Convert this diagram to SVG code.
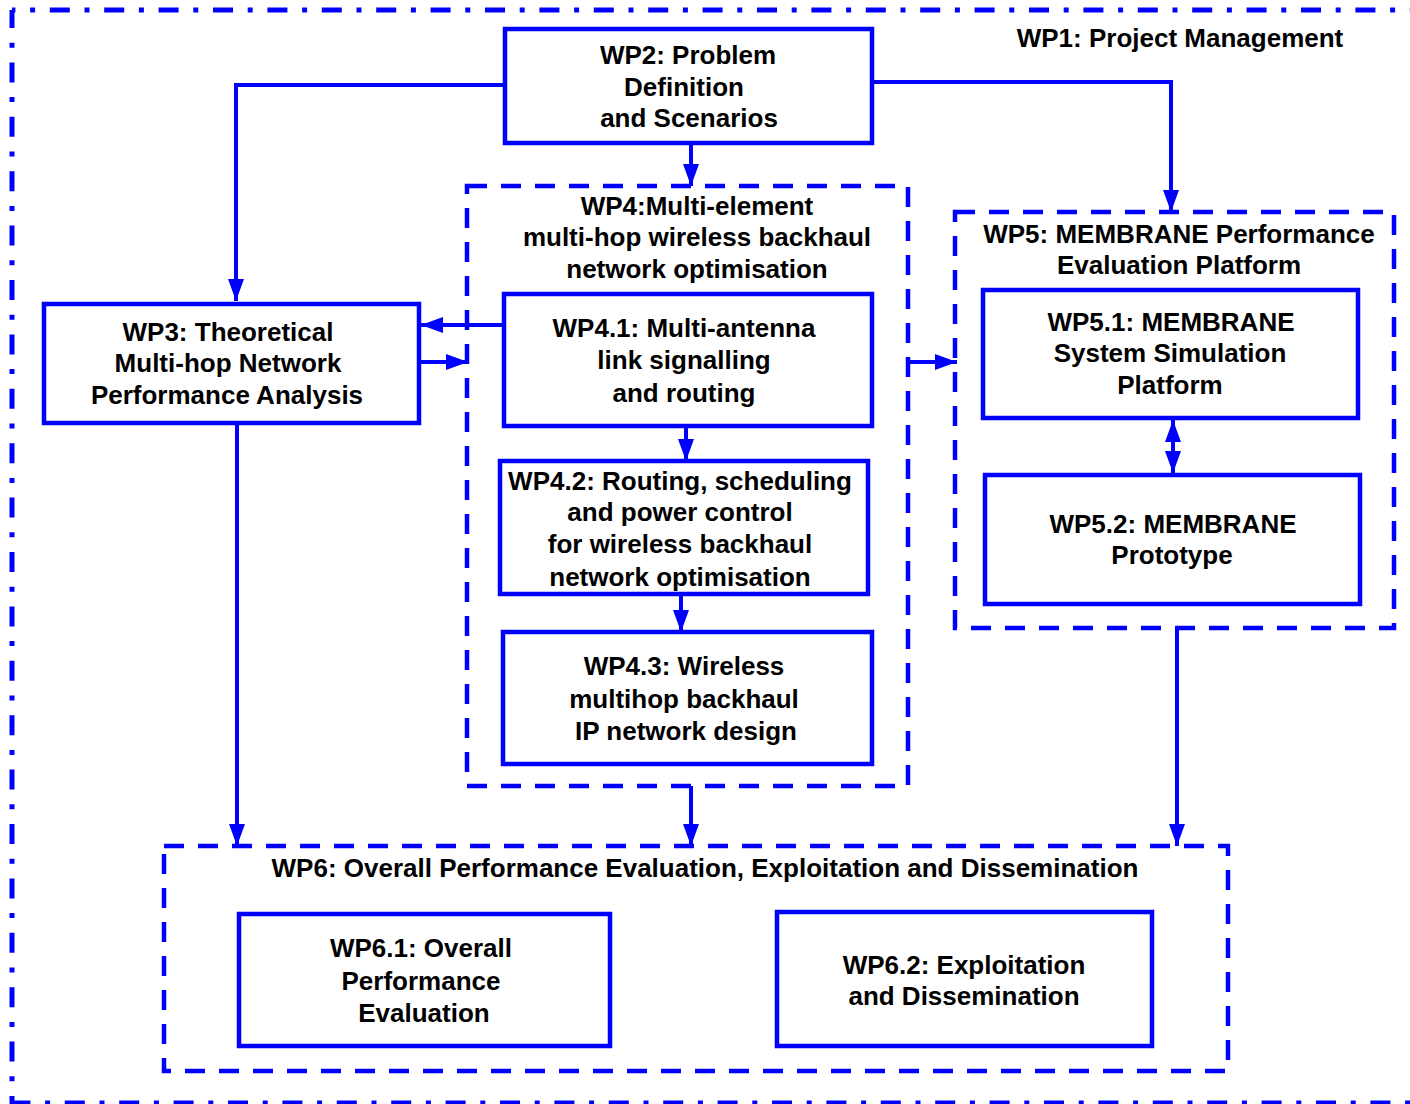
<svg xmlns="http://www.w3.org/2000/svg" width="1410" height="1104" viewBox="0 0 1410 1104">
<style>
.box{fill:#fff;stroke:#0000ff;stroke-width:4.5}
.dbox{fill:none;stroke:#0000ff;stroke-width:4.5;stroke-dasharray:20 14}
.outer{fill:none;stroke:#0000ff;stroke-width:5;stroke-dasharray:20 14.7 5 14.7}
.c{fill:none;stroke:#0000ff;stroke-width:4}
text{font-family:"Liberation Sans",Arial,sans-serif;font-weight:bold;font-size:26px;fill:#000;text-anchor:middle}
</style>
<defs>
<marker id="ah" markerUnits="userSpaceOnUse" markerWidth="24" markerHeight="18" refX="22" refY="8" orient="auto-start-reverse"><path d="M0,0 L22,8 L0,16 z" fill="#0000ff"/></marker>
</defs>
<rect width="1410" height="1104" fill="#fff"/>
<g id="wp1">
<line class="outer" x1="12" y1="10" x2="1410" y2="10" stroke-dashoffset="16.6"/>
<line class="outer" x1="12" y1="10" x2="12" y2="1104" stroke-dashoffset="2"/>
<line class="outer" x1="12" y1="1103" x2="1410" y2="1103" stroke-dashoffset="1.6"/>
<text x="1180" y="47">WP1: Project Management</text>
</g>
<g id="wp4">
<rect class="dbox" x="467" y="186" width="441" height="600"/>
<text x="697" y="215">WP4:Multi-element</text>
<text x="697" y="246">multi-hop wireless backhaul</text>
<text x="697" y="278">network optimisation</text>
</g>
<g id="wp5">
<rect class="dbox" x="955" y="212" width="439" height="416"/>
<text x="1179" y="243">WP5: MEMBRANE Performance</text>
<text x="1179" y="274">Evaluation Platform</text>
</g>
<g id="wp6">
<rect class="dbox" x="164" y="846" width="1064" height="225"/>
<text x="705" y="877">WP6: Overall Performance Evaluation, Exploitation and Dissemination</text>
</g>
<g id="wp2">
<rect class="box" x="505" y="29" width="367" height="114"/>
<text x="688" y="64">WP2: Problem</text>
<text x="684" y="96">Definition</text>
<text x="689" y="127">and Scenarios</text>
</g>
<g id="wp3">
<rect class="box" x="44" y="304" width="375" height="119"/>
<text x="228" y="341">WP3: Theoretical</text>
<text x="228" y="372">Multi-hop Network</text>
<text x="227" y="404">Performance Analysis</text>
</g>
<g id="wp41">
<rect class="box" x="504" y="294" width="368" height="132"/>
<text x="684" y="337">WP4.1: Multi-antenna</text>
<text x="684" y="369">link signalling</text>
<text x="684" y="402">and routing</text>
</g>
<g id="wp42">
<rect class="box" x="500" y="461" width="368" height="133"/>
<text x="680" y="490">WP4.2: Routing, scheduling</text>
<text x="680" y="521">and power control</text>
<text x="680" y="553">for wireless backhaul</text>
<text x="680" y="586">network optimisation</text>
</g>
<g id="wp43">
<rect class="box" x="503" y="632" width="369" height="132"/>
<text x="684" y="675">WP4.3: Wireless</text>
<text x="684" y="708">multihop backhaul</text>
<text x="686" y="740">IP network design</text>
</g>
<g id="wp51">
<rect class="box" x="983" y="290" width="375" height="128"/>
<text x="1171" y="331">WP5.1: MEMBRANE</text>
<text x="1170" y="362">System Simulation</text>
<text x="1170" y="394">Platform</text>
</g>
<g id="wp52">
<rect class="box" x="985" y="475" width="375" height="129"/>
<text x="1173" y="533">WP5.2: MEMBRANE</text>
<text x="1172" y="564">Prototype</text>
</g>
<g id="wp61">
<rect class="box" x="239" y="914" width="371" height="132"/>
<text x="421" y="957">WP6.1: Overall</text>
<text x="421" y="990">Performance</text>
<text x="424" y="1022">Evaluation</text>
</g>
<g id="wp62">
<rect class="box" x="777" y="912" width="375" height="134"/>
<text x="964" y="974">WP6.2: Exploitation</text>
<text x="964" y="1005">and Dissemination</text>
</g>
<g id="connectors">
<polyline class="c" points="505,85 236,85 236,301" marker-end="url(#ah)"/>
<polyline class="c" points="872,82 1171,82 1171,212" marker-end="url(#ah)"/>
<line class="c" x1="691" y1="143" x2="691" y2="186" marker-end="url(#ah)"/>
<line class="c" x1="504" y1="325" x2="421" y2="325" marker-end="url(#ah)"/>
<line class="c" x1="419" y1="362" x2="468" y2="362" marker-end="url(#ah)"/>
<line class="c" x1="908" y1="362" x2="957" y2="362" marker-end="url(#ah)"/>
<line class="c" x1="686" y1="426" x2="686" y2="461" marker-end="url(#ah)"/>
<line class="c" x1="681" y1="594" x2="681" y2="632" marker-end="url(#ah)"/>
<line class="c" x1="1173" y1="420" x2="1173" y2="473" marker-start="url(#ah)" marker-end="url(#ah)"/>
<line class="c" x1="237" y1="423" x2="237" y2="846" marker-end="url(#ah)"/>
<line class="c" x1="691" y1="786" x2="691" y2="846" marker-end="url(#ah)"/>
<line class="c" x1="1177" y1="628" x2="1177" y2="846" marker-end="url(#ah)"/>
</g>
</svg>
